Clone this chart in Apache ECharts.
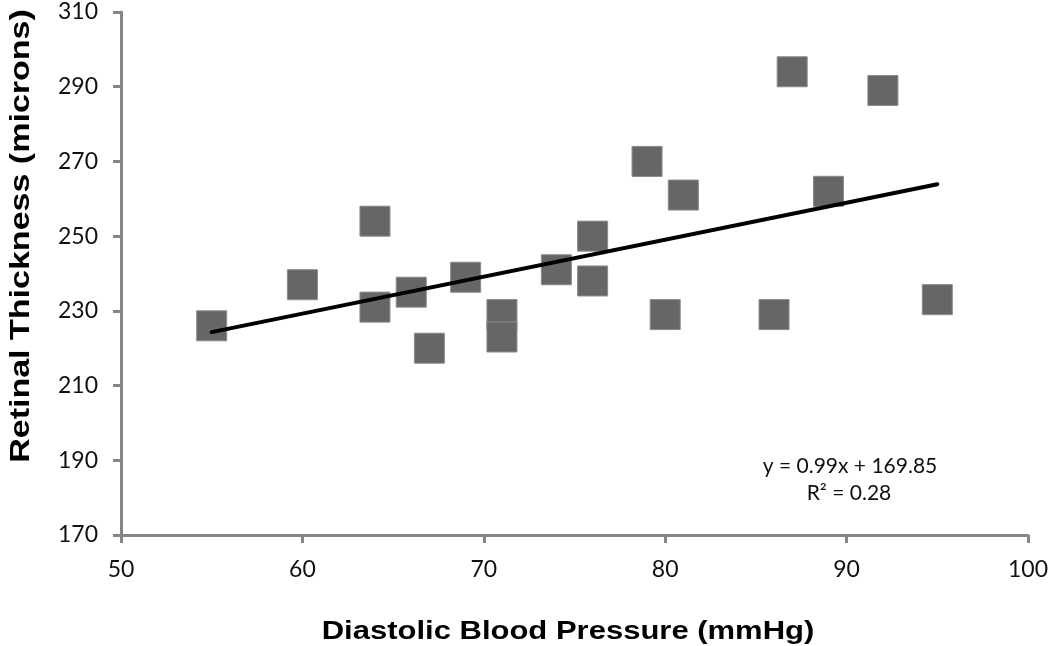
<!DOCTYPE html>
<html>
<head>
<meta charset="utf-8">
<script src="https://cdn.jsdelivr.net/npm/echarts@6/dist/echarts.min.js"></script>
<style>html,body{margin:0;padding:0;background:#fff}#c{width:1050px;height:646px}</style>
</head>
<body>
<div id="c"></div>
<script>
// Data
const pressure = [55, 60, 64, 64, 66, 67, 69, 71, 71, 74, 76, 76, 79, 80, 81, 86, 87, 89, 92, 95];
const thickness = [226, 237, 254, 231, 235, 220, 239, 229, 223, 241, 250, 238, 270, 229, 261, 229, 294, 262, 289, 233];
const trendX = [55, 95];
const trendY = [224.3, 263.9];
const equationText = 'y = 0.99x + 169.85';
const r2Text = 'R² = 0.28';
const xTitle = 'Diastolic Blood Pressure (mmHg)';
const yTitle = 'Retinal Thickness (microns)';

const chart = echarts.init(document.getElementById('c'), null, {renderer: 'canvas'});
const axisCol = '#868686';
const labelFont = 'Lato, "Liberation Sans", sans-serif';
const titleFont = '"Liberation Sans", Arial, sans-serif';
chart.setOption({
  animation: false,
  backgroundColor: '#ffffff',
  grid: {left: 121, right: 22, top: 12, bottom: 111, containLabel: false, outerBoundsMode: 'none'},
  xAxis: {
    type: 'value', min: 50, max: 100, interval: 10,
    axisLine: {show: true, lineStyle: {color: axisCol, width: 3}},
    axisTick: {show: true, inside: false, length: 8, lineStyle: {color: axisCol, width: 3}},
    axisLabel: {fontFamily: labelFont, fontSize: 23, color: '#111', margin: 23},
    splitLine: {show: false}
  },
  yAxis: {
    type: 'value', min: 170, max: 310, interval: 20,
    axisLine: {show: true, lineStyle: {color: axisCol, width: 3}},
    axisTick: {show: true, inside: false, length: 8, lineStyle: {color: axisCol, width: 3}},
    axisLabel: {fontFamily: labelFont, fontSize: 23, color: '#111', margin: 23},
    splitLine: {show: false}
  },
  series: [
    {
      type: 'scatter',
      data: pressure.map((x, i) => [x, thickness[i]]),
      symbol: 'rect', symbolSize: 30,
      itemStyle: {color: '#666666', borderColor: '#8a8a8a', borderWidth: 1, opacity: 1},
      z: 2
    },
    {
      type: 'line',
      data: trendX.map((x, i) => [x, trendY[i]]),
      showSymbol: false, symbol: 'none',
      lineStyle: {color: '#000', width: 4, cap: 'round'},
      z: 3
    }
  ],
  graphic: [
    {type: 'text', x: 568, y: 632, scaleX: 1.24,
     style: {text: xTitle, font: 'bold 25px ' + titleFont, fill: '#000', align: 'center', verticalAlign: 'middle'}},
    {type: 'text', x: 22, y: 236, rotation: Math.PI / 2, scaleX: 1.26,
     style: {text: yTitle, font: 'bold 27px ' + titleFont, fill: '#000', align: 'center', verticalAlign: 'middle'}},
    {type: 'text', x: 850, y: 466, style: {text: equationText, font: '21px ' + labelFont, fill: '#111', align: 'center', verticalAlign: 'middle'}},
    {type: 'text', x: 849, y: 493, style: {text: r2Text, font: '21px ' + labelFont, fill: '#111', align: 'center', verticalAlign: 'middle'}}
  ]
});
</script>
</body>
</html>
